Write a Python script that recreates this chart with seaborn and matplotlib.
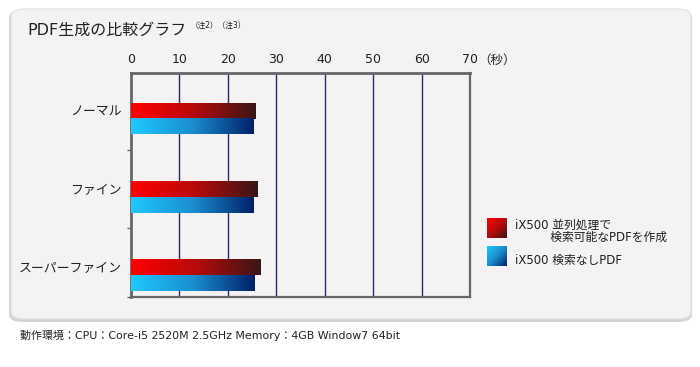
import numpy as np
import pandas as pd
import matplotlib
matplotlib.use("Agg")
import matplotlib.pyplot as plt
import seaborn as sns
from matplotlib.colors import LinearSegmentedColormap
from matplotlib.patches import FancyBboxPatch

categories = ["ノーマル", "ファイン", "スーパーファイン"]
series_names = ["iX500 並列処理で\n　　　検索可能なPDFを作成", "iX500 検索なしPDF"]
parallel_pdf = [25.8, 26.1, 26.7]
plain_pdf = [25.3, 25.3, 25.5]
x_ticks = [0, 10, 20, 30, 40, 50, 60, 70]

sns.set_theme(style="white")
plt.rcParams["font.family"] = ["DejaVu Sans", "Noto Sans CJK JP"]

df = pd.DataFrame({
    "cat": categories * 2,
    "val": parallel_pdf + plain_pdf,
    "series": ["A"] * 3 + ["B"] * 3,
})

fig = plt.figure(figsize=(7.0, 3.67), dpi=100)
fig.patch.set_facecolor("white")

W, H = 700.0, 367.0
def fx(px): return px / W
def fy(py): return 1 - py / H
shadow = FancyBboxPatch((fx(9), fy(322)), fx(683), (318 - 8) / H + 0.005,
                        boxstyle="round,pad=0,rounding_size=0.02",
                        transform=fig.transFigure, facecolor="#d6d4d4",
                        edgecolor="none", zorder=-2)
fig.patches.append(shadow)
panel = FancyBboxPatch((fx(11), fy(319)), fx(680), (319 - 9) / H,
                       boxstyle="round,pad=0,rounding_size=0.02",
                       transform=fig.transFigure, facecolor="#f4f2f2",
                       edgecolor="#e2e0e0", lw=0.8, zorder=-1)
fig.patches.append(panel)

ax = fig.add_axes([131 / W, 1 - 297 / H, 339 / W, 224 / H])
ax.set_facecolor("none")

sns.barplot(data=df, x="val", y="cat", hue="series", orient="h",
            palette={"A": "#ff0000", "B": "#0000ff"}, width=0.4,
            legend=False, ax=ax, saturation=1)

red_cmap = LinearSegmentedColormap.from_list("r", ["#ff0000", "#b80a0a", "#3a1616"])
blue_cmap = LinearSegmentedColormap.from_list("b", ["#20c8ff", "#1a8ed0", "#002068"])
grad = np.linspace(0, 1, 256).reshape(1, -1)
for p in list(ax.patches):
    fc = p.get_facecolor()
    cmap = red_cmap if fc[0] > 0.5 else blue_cmap
    x0, w = p.get_x(), p.get_width()
    y0, h = p.get_y(), p.get_height()
    ax.imshow(grad, extent=[x0, x0 + w, y0 + h, y0], aspect="auto",
              cmap=cmap, zorder=3, interpolation="bicubic")
    p.set_visible(False)

ax.set_xlim(0, 70)
ax.set_ylim(2.28, -0.583)

ax.xaxis.tick_top()
ax.set_xticks(x_ticks)
ax.set_xticklabels([str(t) for t in x_ticks])
ax.tick_params(axis="x", length=0, pad=5, labelsize=9, colors="#222222")
for t in x_ticks[1:-1]:
    ax.axvline(t, color="#2c2a66", lw=1, zorder=1)

ax.set_yticks([-0.1, 0.9, 1.9])
ax.set_yticklabels(categories)
ax.tick_params(axis="y", length=0, pad=7, labelsize=9.3, colors="#222222")
ax.set_yticks([0.4, 1.4, 2.28], minor=True)
ax.tick_params(axis="y", which="minor", length=3, width=1, color="#666666", left=True)
ax.set_xlabel("")
ax.set_ylabel("")

for s in ["left", "top"]:
    ax.spines[s].set_color("#666666")
    ax.spines[s].set_linewidth(2)
for s in ["right", "bottom"]:
    ax.spines[s].set_color("#666666")
    ax.spines[s].set_linewidth(1.6)
    ax.spines[s].set_visible(True)

ax.text(1.025, 1.0 + 13 / 224, "（秒）", transform=ax.transAxes, fontsize=9,
        va="center", ha="left", color="#222222")

fig.text(fx(27), fy(30), "PDF生成の比較グラフ", fontsize=11.5, va="center",
         ha="left", color="#222222")
fig.text(fx(191), fy(25), "（注2）（注3）", fontsize=5.5, va="center",
         ha="left", color="#222222")

def grad_square(px, py, cmap):
    lax = fig.add_axes([px / W, 1 - (py + 20) / H, 20 / W, 20 / H])
    xx, yy = np.meshgrid(np.linspace(0, 1, 64), np.linspace(0, 1, 64))
    lax.imshow((xx + yy) / 2, cmap=cmap, aspect="auto", interpolation="bicubic")
    lax.set_axis_off()

grad_square(487, 218, red_cmap)
grad_square(487, 246, blue_cmap)
fig.text(fx(515), fy(231), series_names[0], fontsize=8.5, va="center",
         ha="left", color="#222222", linespacing=0.95)
fig.text(fx(515), fy(260), series_names[1], fontsize=8.5, va="center",
         ha="left", color="#222222")

fig.text(fx(20), fy(335), "動作環境：CPU：Core-i5 2520M 2.5GHz Memory：4GB Window7 64bit",
         fontsize=7.9, va="center", ha="left", color="#222222")

fig.savefig("out.png", dpi=100, facecolor="white")
